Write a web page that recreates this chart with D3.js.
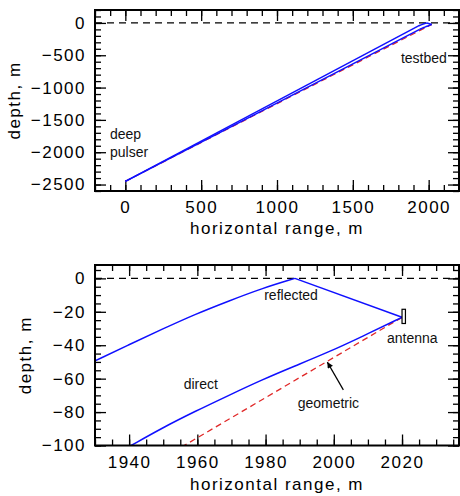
<!DOCTYPE html>
<html>
<head>
<meta charset="utf-8">
<script src="https://cdn.jsdelivr.net/npm/d3@7"></script>
<style>
  body { margin: 0; background: #fff; }
  svg { display: block; }
  .tick text { font-family: "Liberation Sans", Arial, sans-serif; font-size: 17px; letter-spacing: 1.5px; fill: #000; }
  .tick line { stroke: #000; stroke-width: 1.3; }
  .label { font-family: "Liberation Sans", Arial, sans-serif; font-size: 17px; letter-spacing: 1.5px; fill: #000; }
  .note { font-family: "Liberation Sans", Arial, sans-serif; font-size: 14px; fill: #111; }
</style>
</head>
<body>
<div id="chart"></div>
<script>
// --- ray paths (horizontal range m, depth m) ---
// deep legs are straight, near-surface legs bend in the firn
const directDeep = [[0, -2450], [1940.6, -100]];
const directNear = [
  [1940.6, -100], [1949.6, -89.6], [1959.3, -79.6], [1969.1, -70.1],
  [1978.9, -60.7], [1988.6, -52.4], [1998.4, -44.2], [2008.2, -34.9], [2020, -23.3]
];
const reflectedDeep = [[0, -2450], [1930, -49.4]];
const reflectedNear = [
  [1930, -49.4], [1939.8, -39.8], [1949.6, -30.5], [1959.3, -21.5],
  [1969.1, -13.6], [1978.9, -6.0], [1988.6, 0]
];
const reflectedDown = [[1988.6, 0], [2020, -23.3]];
const geometricPath = [[0, -2450], [2020, -23.3]];

// antenna box corners
const antennaBox = [[2020, -27], [2021, -18.5]];

// tick values
const topXMajor = [0, 500, 1000, 1500, 2000];
const topYMajor = [-2500, -2000, -1500, -1000, -500, 0];
const botXMajor = [1940, 1960, 1980, 2000, 2020];
const botYMajor = [-100, -80, -60, -40, -20, 0];

// annotations (data coords)
const topNotes = [
  { text: "deep", x: -101, y: -1794 },
  { text: "pulser", x: -101, y: -2068 },
  { text: "testbed", x: 1817, y: -624 }
];
const botNotes = [
  { text: "reflected", x: 1979.6, y: -13.1 },
  { text: "antenna", x: 2015.6, y: -38.8 },
  { text: "direct", x: 1956, y: -66.3 },
  { text: "geometric", x: 1989.4, y: -77.6 }
];
const geoArrow = [[2002.8, -66.7], [1998.1, -50.1]];

const W = 460, H = 496;
const svg = d3.select("#chart").append("svg")
  .attr("width", W).attr("height", H);

svg.append("defs").append("marker")
  .attr("id", "head")
  .attr("viewBox", "0 0 10 10")
  .attr("refX", 10).attr("refY", 5)
  .attr("markerWidth", 7).attr("markerHeight", 6)
  .attr("markerUnits", "userSpaceOnUse")
  .attr("orient", "auto")
  .append("path").attr("d", "M0,0L10,5L0,10Z").attr("fill", "#000");

function drawPanel(cfg) {
  const x = d3.scaleLinear().domain(cfg.xDomain).range([95, 459]);
  const y = d3.scaleLinear().domain(cfg.yDomain).range([cfg.bottom, cfg.top]);
  const g = svg.append("g");

  g.append("clipPath").attr("id", cfg.id)
    .append("rect")
    .attr("x", 95).attr("y", cfg.top)
    .attr("width", 364).attr("height", cfg.bottom - cfg.top);

  const xMinor = d3.range(cfg.xDomain[0], cfg.xDomain[1] + 1e-6, cfg.xMinorStep);
  const yMinor = d3.range(cfg.yDomain[0], cfg.yDomain[1] + 1e-6, cfg.yMinorStep);
  const fmt = d3.format("d");

  // major + minor ticks on all four sides (inward)
  g.append("g").attr("transform", `translate(0,${cfg.bottom})`)
    .call(d3.axisBottom(x).tickValues(cfg.xMajor).tickSize(-11).tickPadding(10.4).tickFormat(fmt));
  g.append("g").attr("transform", `translate(0,${cfg.bottom})`)
    .call(d3.axisBottom(x).tickValues(xMinor).tickSize(-6).tickFormat(""));
  g.append("g").attr("transform", `translate(0,${cfg.top})`)
    .call(d3.axisTop(x).tickValues(cfg.xMajor).tickSize(-11).tickFormat(""));
  g.append("g").attr("transform", `translate(0,${cfg.top})`)
    .call(d3.axisTop(x).tickValues(xMinor).tickSize(-6).tickFormat(""));
  g.append("g").attr("transform", "translate(95,0)")
    .call(d3.axisLeft(y).tickValues(cfg.yMajor).tickSize(-11).tickPadding(9).tickFormat(fmt));
  g.append("g").attr("transform", "translate(95,0)")
    .call(d3.axisLeft(y).tickValues(yMinor).tickSize(-6).tickFormat(""));
  g.append("g").attr("transform", "translate(459,0)")
    .call(d3.axisRight(y).tickValues(cfg.yMajor).tickSize(-11).tickFormat(""));
  g.append("g").attr("transform", "translate(459,0)")
    .call(d3.axisRight(y).tickValues(yMinor).tickSize(-6).tickFormat(""));
  g.selectAll(".domain").remove();
  g.selectAll(".tick text").attr("font-family", null).attr("font-size", null);

  // surface
  g.append("line")
    .attr("x1", 95).attr("x2", 459)
    .attr("y1", y(0)).attr("y2", y(0))
    .attr("stroke", "#000").attr("stroke-width", 1.2)
    .attr("stroke-dasharray", "7,5");

  const straight = d3.line().x(d => x(d[0])).y(d => y(d[1]));
  const smooth = d3.line().curve(d3.curveBasis).x(d => x(d[0])).y(d => y(d[1]));
  const plot = g.append("g").attr("clip-path", `url(#${cfg.id})`);

  plot.append("path").datum(geometricPath)
    .attr("d", straight).attr("fill", "none")
    .attr("stroke", "#e02828").attr("stroke-width", 1.3)
    .attr("stroke-dasharray", "6,4");
  const rays = [
    [reflectedDeep, straight], [reflectedNear, smooth], [reflectedDown, straight],
    [directDeep, straight], [directNear, smooth]
  ];
  rays.forEach(([pts, gen]) => {
    plot.append("path").datum(pts)
      .attr("d", gen).attr("fill", "none")
      .attr("stroke", "#1010ff").attr("stroke-width", 1.5)
      .attr("stroke-linejoin", "round");
  });

  if (cfg.antenna) {
    g.append("rect")
      .attr("x", x(antennaBox[0][0])).attr("y", y(antennaBox[1][1]))
      .attr("width", x(antennaBox[1][0]) - x(antennaBox[0][0]))
      .attr("height", y(antennaBox[0][1]) - y(antennaBox[1][1]))
      .attr("fill", "#fff").attr("stroke", "#000").attr("stroke-width", 1.2);
    g.append("line")
      .attr("x1", x(geoArrow[0][0])).attr("y1", y(geoArrow[0][1]))
      .attr("x2", x(geoArrow[1][0])).attr("y2", y(geoArrow[1][1]))
      .attr("stroke", "#000").attr("stroke-width", 1.2)
      .attr("marker-end", "url(#head)");
  }

  g.selectAll(".note").data(cfg.notes).join("text")
    .attr("class", "note")
    .attr("x", d => x(d.x)).attr("y", d => y(d.y))
    .text(d => d.text);

  // frame
  g.append("rect")
    .attr("x", 95).attr("y", cfg.top)
    .attr("width", 364).attr("height", cfg.bottom - cfg.top)
    .attr("fill", "none").attr("stroke", "#000").attr("stroke-width", 2);

  g.append("text").attr("class", "label")
    .attr("x", 277).attr("y", cfg.xLabelY)
    .attr("text-anchor", "middle")
    .text("horizontal range, m");
  g.append("text").attr("class", "label")
    .attr("transform", `translate(${cfg.yLabelX},${(cfg.top + cfg.bottom) / 2}) rotate(-90)`)
    .attr("text-anchor", "middle")
    .text("depth, m");
}

drawPanel({
  id: "clipTop", top: 10, bottom: 191,
  xDomain: [-200, 2200], yDomain: [-2600, 200],
  xMajor: topXMajor, yMajor: topYMajor, xMinorStep: 100, yMinorStep: 100,
  notes: topNotes, antenna: false, xLabelY: 234, yLabelX: 20
});
drawPanel({
  id: "clipBot", top: 265, bottom: 445.5,
  xDomain: [1930, 2036.7], yDomain: [-100, 8],
  xMajor: botXMajor, yMajor: botYMajor, xMinorStep: 5, yMinorStep: 5,
  notes: botNotes, antenna: true, xLabelY: 490, yLabelX: 31
});
</script>
</body>
</html>
